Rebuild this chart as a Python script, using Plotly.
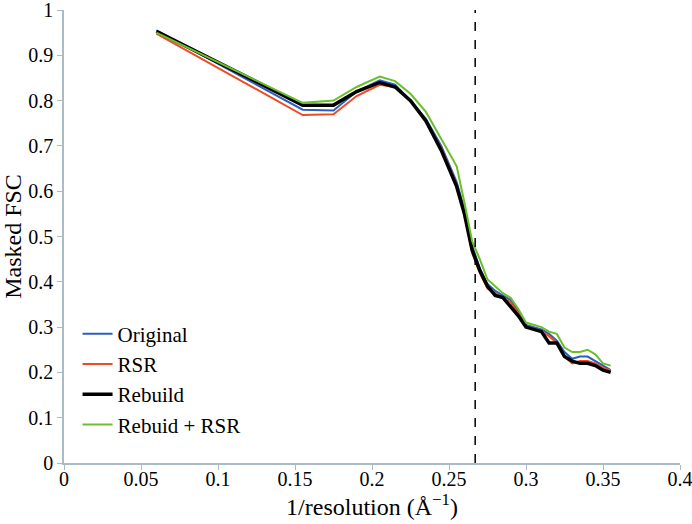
import plotly.graph_objects as go

# 1/resolution (1/Å) sampling points
inv_res = [0.06, 0.155, 0.175, 0.19, 0.205, 0.215, 0.225, 0.235, 0.245, 0.255,
           0.26, 0.265, 0.27, 0.275, 0.28, 0.285, 0.29, 0.295, 0.30, 0.31,
           0.315, 0.32, 0.325, 0.33, 0.335, 0.34, 0.345, 0.35, 0.355]

fsc_original = [0.955, 0.78, 0.778, 0.82, 0.845, 0.835, 0.80, 0.76, 0.70, 0.62,
                0.56, 0.48, 0.43, 0.395, 0.38, 0.37, 0.36, 0.335, 0.305, 0.295,
                0.285, 0.27, 0.245, 0.23, 0.235, 0.235, 0.225, 0.215, 0.205]
fsc_rsr = [0.948, 0.768, 0.77, 0.81, 0.835, 0.83, 0.80, 0.755, 0.695, 0.615,
           0.55, 0.465, 0.42, 0.385, 0.375, 0.365, 0.355, 0.33, 0.30, 0.29,
           0.28, 0.265, 0.235, 0.22, 0.225, 0.225, 0.22, 0.21, 0.205]
fsc_rebuild = [0.953, 0.79, 0.79, 0.82, 0.84, 0.83, 0.80, 0.755, 0.69, 0.61,
               0.55, 0.47, 0.425, 0.39, 0.37, 0.365, 0.345, 0.325, 0.30, 0.29,
               0.265, 0.265, 0.235, 0.225, 0.22, 0.22, 0.215, 0.205, 0.20]
fsc_rebuild_rsr = [0.95, 0.795, 0.80, 0.83, 0.853, 0.843, 0.815, 0.775, 0.715, 0.655,
                   0.575, 0.49, 0.45, 0.405, 0.39, 0.375, 0.365, 0.34, 0.31, 0.30,
                   0.29, 0.285, 0.255, 0.245, 0.245, 0.25, 0.24, 0.22, 0.215]

cutoff = 0.267  # FSC threshold resolution

x_ticks = [0, 0.05, 0.1, 0.15, 0.2, 0.25, 0.3, 0.35, 0.4]
x_labels = ["0", "0.05", "0.1", "0.15", "0.2", "0.25", "0.3", "0.35", "0.4"]
y_ticks = [0, 0.1, 0.2, 0.3, 0.4, 0.5, 0.6, 0.7, 0.8, 0.9, 1]
y_labels = ["0", "0.1", "0.2", "0.3", "0.4", "0.5", "0.6", "0.7", "0.8", "0.9", "1"]

axis_col = "#a9bcc6"

fig = go.Figure()
fig.add_trace(go.Scatter(x=inv_res, y=fsc_original, mode="lines", name="Original",
                         line=dict(color="#2a5fbf", width=2)))
fig.add_trace(go.Scatter(x=inv_res, y=fsc_rsr, mode="lines", name="RSR",
                         line=dict(color="#f04a23", width=2)))
fig.add_trace(go.Scatter(x=inv_res, y=fsc_rebuild, mode="lines", name="Rebuild",
                         line=dict(color="black", width=3.5)))
fig.add_trace(go.Scatter(x=inv_res, y=fsc_rebuild_rsr, mode="lines", name="Rebuid + RSR",
                         line=dict(color="#6abf2a", width=2)))

fig.add_shape(type="line", x0=cutoff, x1=cutoff, y0=0, y1=1, xref="x", yref="y",
              line=dict(color="black", width=1.5, dash="dash"))

fig.update_layout(
    width=692, height=524,
    margin=dict(l=64, r=12, t=10, b=61, autoexpand=False),
    plot_bgcolor="white", paper_bgcolor="white",
    font=dict(family="Liberation Serif", size=20, color="black"),
    legend=dict(x=0.022, y=0.33, xanchor="left", yanchor="top",
                bgcolor="rgba(0,0,0,0)", font=dict(size=21),
                tracegroupgap=0, itemwidth=30),
    xaxis=dict(range=[0, 0.4], tickvals=x_ticks, ticktext=x_labels,
               showgrid=False, zeroline=False,
               showline=True, linecolor=axis_col, linewidth=1.5,
               ticks="outside", tickcolor=axis_col, ticklen=5,
               ticklabeloverflow="allow", ticklabelstandoff=-8,
               automargin=False,
               title=dict(text="1/resolution (Å<sup>−1</sup>)", standoff=0)),
    yaxis=dict(range=[0, 1], tickvals=y_ticks, ticktext=y_labels,
               showgrid=False, zeroline=False,
               showline=True, linecolor=axis_col, linewidth=1.5,
               ticks="outside", tickcolor=axis_col, ticklen=5,
               ticklabeloverflow="allow",
               automargin=False,
               title=dict(text="Masked FSC", standoff=4)),
)

fig.write_html("out.html", config={"displayModeBar": False},
               post_script="document.body.style.margin='0';")
